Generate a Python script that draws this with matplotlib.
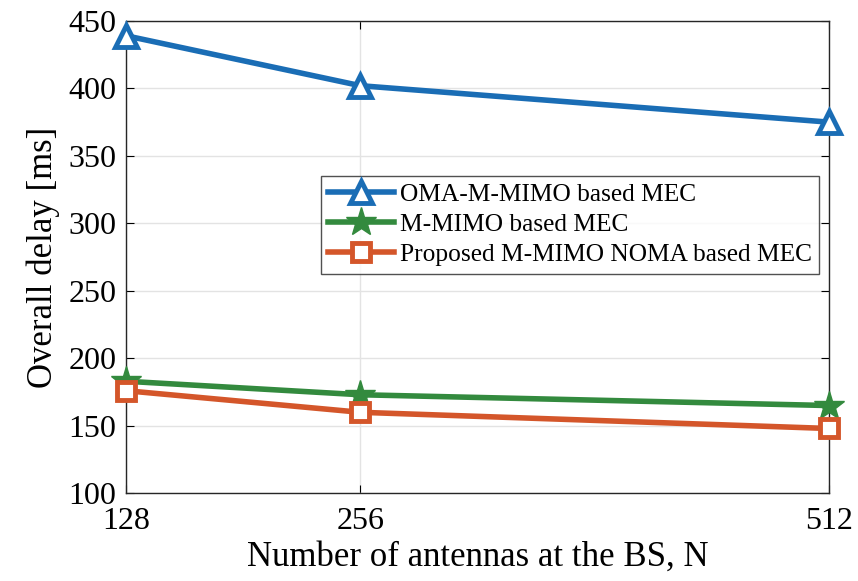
import matplotlib; matplotlib.use("Agg")
import matplotlib.pyplot as plt

antennas = [128, 256, 512]
oma_delay = [439, 402, 375]
mimo_delay = [183, 173, 165]
noma_delay = [176, 160, 148]
labels = ["OMA-M-MIMO based MEC", "M-MIMO based MEC",
          "Proposed M-MIMO NOMA based MEC"]

plt.rcParams["font.family"] = ["Liberation Serif", "DejaVu Serif"]
plt.rcParams["mathtext.fontset"] = "stix"

fig = plt.figure(figsize=(8.58, 5.81), dpi=100)
ax = fig.add_axes([0.147, 0.151, 0.819, 0.813])

ax.plot(antennas, oma_delay, color="#1A6DB5", lw=4, marker="^", ms=16,
        mfc="white", mec="#1A6DB5", mew=3.5, label=labels[0], clip_on=False, zorder=3)
ax.plot(antennas, mimo_delay, color="#338A3E", lw=4, marker="*", ms=22,
        mfc="#338A3E", mec="#338A3E", mew=1, label=labels[1], clip_on=False, zorder=3)
ax.plot(antennas, noma_delay, color="#D4562A", lw=4, marker="s", ms=13,
        mfc="white", mec="#D4562A", mew=3.5, label=labels[2], clip_on=False, zorder=3)

ax.set_xlim(128, 512)
ax.set_ylim(100, 450)
ax.set_xticks(antennas)
ax.set_yticks(range(100, 451, 50))
ax.grid(True, color="#e3e3e3", lw=1)
ax.set_axisbelow(True)
ax.tick_params(direction="in", labelsize=23, length=6, top=True, right=True, pad=7)
ax.tick_params(axis="x", pad=10)
for s in ax.spines.values():
    s.set_linewidth(1)
    s.set_color("#262626")

ax.set_xlabel("Number of antennas at the BS, N", fontsize=25, labelpad=3)
ax.set_ylabel("Overall delay [ms]", fontsize=25, labelpad=6)

leg = ax.legend(loc="upper left", bbox_to_anchor=(0.277, 0.672), fontsize=18.3,
                frameon=True, fancybox=False, edgecolor="#262626",
                handlelength=2.6, handletextpad=0.2, borderpad=0.3,
                labelspacing=0.28, borderaxespad=0)
leg.get_frame().set_linewidth(1)

fig.savefig("out.png", dpi=100)
